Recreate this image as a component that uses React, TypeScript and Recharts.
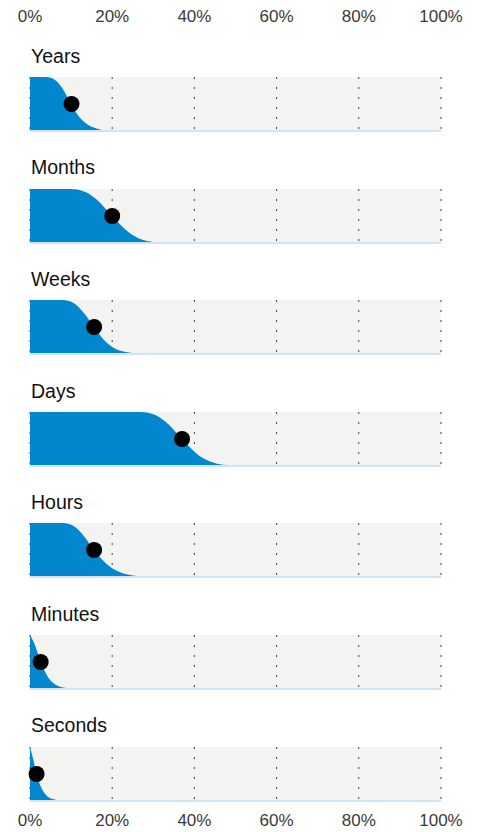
import {
  ComposedChart,
  Area,
  Scatter,
  XAxis,
  YAxis,
  CartesianGrid,
  ReferenceLine,
} from "recharts";

const categories = ["Years", "Months", "Weeks", "Days", "Hours", "Minutes", "Seconds"];

// position of the black dot (percent) for each category
const dotValues = [10.1, 20, 15.6, 37, 15.6, 2.6, 1.6];

// distribution curves: x in %, y = share (1 = full band)
const yearsCurve = [
  { x: 0, y: 1 }, { x: 4, y: 1 }, { x: 6, y: 0.95 }, { x: 8, y: 0.78 },
  { x: 10, y: 0.5 }, { x: 12, y: 0.26 }, { x: 14, y: 0.12 }, { x: 16, y: 0.05 },
  { x: 18, y: 0.015 }, { x: 21, y: 0 }, { x: 100, y: 0 },
];
const monthsCurve = [
  { x: 0, y: 1 }, { x: 10, y: 1 }, { x: 13, y: 0.96 }, { x: 16, y: 0.82 },
  { x: 20, y: 0.5 }, { x: 24, y: 0.2 }, { x: 27, y: 0.07 }, { x: 30, y: 0.02 },
  { x: 33, y: 0.005 }, { x: 35, y: 0 }, { x: 100, y: 0 },
];
const weeksCurve = [
  { x: 0, y: 1 }, { x: 8, y: 1 }, { x: 10.5, y: 0.95 }, { x: 13, y: 0.77 },
  { x: 15.6, y: 0.5 }, { x: 18, y: 0.26 }, { x: 21, y: 0.09 }, { x: 24, y: 0.03 },
  { x: 27, y: 0.008 }, { x: 29, y: 0 }, { x: 100, y: 0 },
];
const daysCurve = [
  { x: 0, y: 1 }, { x: 27, y: 1 }, { x: 30, y: 0.96 }, { x: 33, y: 0.82 },
  { x: 37, y: 0.5 }, { x: 41, y: 0.2 }, { x: 44, y: 0.08 }, { x: 47, y: 0.025 },
  { x: 51, y: 0.008 }, { x: 55, y: 0 }, { x: 100, y: 0 },
];
const hoursCurve = [
  { x: 0, y: 1 }, { x: 8, y: 1 }, { x: 10.5, y: 0.95 }, { x: 13, y: 0.77 },
  { x: 15.6, y: 0.5 }, { x: 18.5, y: 0.25 }, { x: 21.5, y: 0.1 }, { x: 25, y: 0.03 },
  { x: 28, y: 0.008 }, { x: 30, y: 0 }, { x: 100, y: 0 },
];
const minutesCurve = [
  { x: 0, y: 1 }, { x: 1, y: 0.85 }, { x: 2.6, y: 0.5 }, { x: 4, y: 0.27 },
  { x: 5.5, y: 0.12 }, { x: 7, y: 0.05 }, { x: 9, y: 0.015 }, { x: 11, y: 0 },
  { x: 100, y: 0 },
];
const secondsCurve = [
  { x: 0, y: 1 }, { x: 0.7, y: 0.8 }, { x: 1.6, y: 0.5 }, { x: 2.8, y: 0.24 },
  { x: 4, y: 0.1 }, { x: 5.5, y: 0.035 }, { x: 7, y: 0.01 }, { x: 8.5, y: 0 },
  { x: 100, y: 0 },
];

const curves = [yearsCurve, monthsCurve, weeksCurve, daysCurve, hoursCurve, minutesCurve, secondsCurve];

const ticks = [0, 20, 40, 60, 80, 100];
const tickLabels = ["0%", "20%", "40%", "60%", "80%", "100%"];

const W = 483;
const MARGIN = { top: 0, right: 42, bottom: 1, left: 30 };
const FONT = '"Liberation Sans", Arial, Helvetica, sans-serif';
const BLUE = "#0287cf";

function AxisRow({ top }: { top: number }) {
  return (
    <div style={{ position: "absolute", top, left: 0 }}>
      <ComposedChart
        width={W}
        height={26}
        data={[{ x: 0 }, { x: 100 }]}
        margin={{ top: 0, right: 42, bottom: 0, left: 30 }}
      >
        <XAxis
          type="number"
          dataKey="x"
          domain={[0, 100]}
          ticks={ticks}
          tickFormatter={(v: number) => tickLabels[ticks.indexOf(v)]}
          height={16}
          axisLine={false}
          tickLine={false}
          tickSize={0}
          tickMargin={0}
          interval={0}
          tick={{ fontSize: 17, fill: "#3a3a3a", fontFamily: FONT }}
        />
      </ComposedChart>
    </div>
  );
}

function Panel({ index }: { index: number }) {
  const top = 77 + index * 111.6;
  return (
    <>
      <div
        style={{
          position: "absolute",
          top: top - 30.2,
          left: 31,
          fontSize: 19.5,
          lineHeight: 1,
          color: "#111",
          fontFamily: FONT,
        }}
      >
        {categories[index]}
      </div>
      <div style={{ position: "absolute", top, left: 0 }}>
        <ComposedChart width={W} height={55} data={curves[index]} margin={MARGIN}>
          <CartesianGrid
            horizontal={false}
            fill="#f3f3f2"
            stroke="#444"
            strokeDasharray="2 8"
          />
          <XAxis hide type="number" dataKey="x" domain={[0, 100]} ticks={ticks} />
          <YAxis hide type="number" domain={[0, 1]} />
          <Area
            type="monotone"
            dataKey="y"
            stroke="none"
            fill={BLUE}
            fillOpacity={1}
            isAnimationActive={false}
          />
          <ReferenceLine y={0} stroke="#cfe5f4" strokeWidth={2} />
          <Scatter
            data={[{ x: dotValues[index], y: 0.5 }]}
            dataKey="y"
            fill="#000"
            isAnimationActive={false}
            shape={(p: any) => <circle cx={p.cx} cy={p.cy} r={8} fill="#000" />}
          />
        </ComposedChart>
      </div>
    </>
  );
}

export default function App() {
  return (
    <div
      style={{
        position: "absolute",
        top: 0,
        left: 0,
        width: W,
        height: 832,
        overflow: "hidden",
        background: "#fff",
        fontFamily: FONT,
      }}
    >
      <AxisRow top={0} />
      {categories.map((c, i) => (
        <Panel key={c} index={i} />
      ))}
      <AxisRow top={804} />
    </div>
  );
}
